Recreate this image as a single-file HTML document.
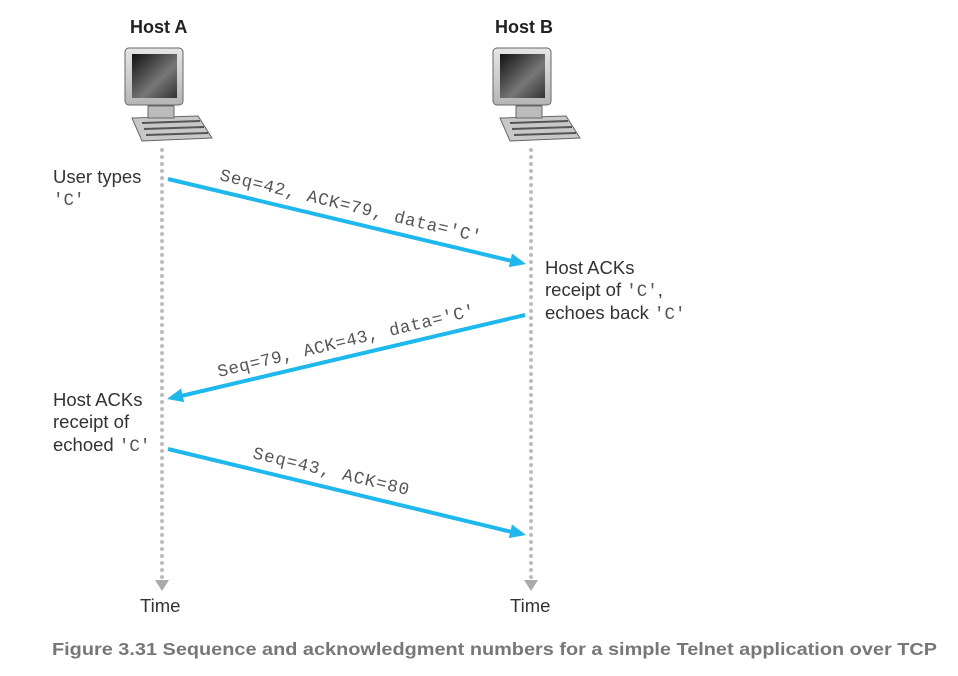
<!DOCTYPE html>
<html><head><meta charset="utf-8"><style>
html,body{margin:0;padding:0;background:#fff;}
svg{display:block}
.s{font-family:"Liberation Sans",sans-serif;font-size:18.5px;fill:#333}
.m{font-family:"Liberation Mono",monospace;font-size:17.5px;fill:#555}
.h{font-family:"Liberation Sans",sans-serif;font-size:18px;font-weight:bold;fill:#222}
</style></head><body>
<svg width="958" height="676" viewBox="0 0 958 676">
<defs>
<linearGradient id="scr" x1="0" y1="0" x2="1" y2="1"><stop offset="0" stop-color="#111"/><stop offset="0.6" stop-color="#777"/><stop offset="1" stop-color="#333"/></linearGradient>
<linearGradient id="bz" x1="0" y1="0" x2="0" y2="1"><stop offset="0" stop-color="#e6e6e6"/><stop offset="1" stop-color="#b5b5b5"/></linearGradient>
<g id="pc">
<path d="M2 108 L68 106 L82 128 L12 131 Z" fill="#c8c8c8" stroke="#666" stroke-width="1"/>
<line x1="12" y1="113" x2="70" y2="111" stroke="#555" stroke-width="2"/>
<line x1="14" y1="119" x2="74" y2="117" stroke="#555" stroke-width="2"/>
<line x1="16" y1="125" x2="78" y2="123" stroke="#555" stroke-width="2"/>
<rect x="18" y="96" width="26" height="12" fill="#bbb" stroke="#666"/>
<rect x="-5" y="38" width="58" height="57" rx="4" fill="url(#bz)" stroke="#666"/>
<rect x="2" y="44" width="45" height="44" fill="url(#scr)"/>
</g>
</defs>
<text class="h" x="130" y="33">Host A</text>
<text class="h" x="495" y="33">Host B</text>
<use href="#pc" x="130" y="10"/>
<use href="#pc" x="498" y="10"/>
<line x1="162" y1="150" x2="162" y2="578" stroke="#bbb" stroke-width="4" stroke-linecap="round" stroke-dasharray="0 7"/>
<line x1="531" y1="150" x2="531" y2="578" stroke="#bbb" stroke-width="4" stroke-linecap="round" stroke-dasharray="0 7"/>
<path d="M155 580 L169 580 L162 591 Z" fill="#aaa"/>
<path d="M524 580 L538 580 L531 591 Z" fill="#aaa"/>
<text class="s" x="140" y="612">Time</text>
<text class="s" x="510" y="612">Time</text>
<line x1="168" y1="179" x2="512" y2="261" stroke="#1fb8ec" stroke-width="4"/>
<path d="M526 264 L512 253.5 L508.8 267.1 Z" fill="#1fb8ec"/>
<line x1="525" y1="315" x2="181" y2="396" stroke="#1fb8ec" stroke-width="4"/>
<path d="M167 399 L181 388.5 L184.2 402.1 Z" fill="#1fb8ec"/>
<line x1="168" y1="449" x2="512" y2="532" stroke="#1fb8ec" stroke-width="4"/>
<path d="M526 535 L512 524.5 L508.8 538.1 Z" fill="#1fb8ec"/>
<text class="m" transform="translate(219,180) rotate(13.4)" textLength="268" lengthAdjust="spacing">Seq=42, ACK=79, data='C'</text>
<text class="m" transform="translate(219,377) rotate(-13.5)" textLength="264" lengthAdjust="spacing">Seq=79, ACK=43, data='C'</text>
<text class="m" transform="translate(252,458) rotate(13.4)" textLength="160" lengthAdjust="spacing">Seq=43, ACK=80</text>
<text class="s" x="53" y="183">User types</text>
<text class="m" x="53" y="205">'C'</text>
<text class="s" x="545" y="274">Host ACKs</text>
<text class="s" x="545" y="296">receipt of <tspan class="m">'C'</tspan>,</text>
<text class="s" x="545" y="319">echoes back <tspan class="m">'C'</tspan></text>
<text class="s" x="53" y="406">Host ACKs</text>
<text class="s" x="53" y="428">receipt of</text>
<text class="s" x="53" y="451">echoed <tspan class="m">'C'</tspan></text>
<text x="52" y="655" textLength="885" lengthAdjust="spacingAndGlyphs" style="font-family:'Liberation Sans',sans-serif;font-size:17.5px;font-weight:bold;fill:#777">Figure 3.31 Sequence and acknowledgment numbers for a simple Telnet application over TCP</text>
</svg>
</body></html>
